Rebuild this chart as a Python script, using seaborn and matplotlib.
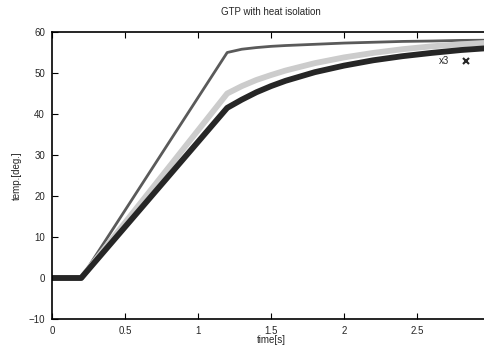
import matplotlib.pyplot as plt
import pandas as pd
import seaborn as sns
from matplotlib.lines import Line2D

# time axis [s] and read-off temperatures [deg.]
t = [0.0, 0.1, 0.2, 0.4, 0.6, 0.8, 1.0, 1.2, 1.3, 1.4, 1.5, 1.6, 1.8, 2.0, 2.2, 2.4, 2.6, 2.8, 3.0]
x1 = [0.0, 0.0, 0.0, 11.0, 22.0, 33.0, 44.0, 55.0, 55.8, 56.2, 56.5, 56.7, 57.0, 57.3, 57.5, 57.7, 57.8, 57.95, 58.0]
x2 = [0.0, 0.0, 0.0, 9.0, 18.0, 27.0, 36.0, 45.0, 46.8, 48.3, 49.5, 50.6, 52.4, 53.8, 54.9, 55.8, 56.5, 57.0, 57.4]
x3 = [0.0, 0.0, 0.0, 8.3, 16.6, 24.9, 33.2, 41.5, 43.5, 45.3, 46.8, 48.1, 50.2, 51.8, 53.1, 54.1, 54.9, 55.6, 56.1]
xticks = [0, 0.5, 1, 1.5, 2, 2.5]

df = pd.DataFrame({"t": t, "x1": x1, "x2": x2, "x3": x3})

sns.set_style("white")
plt.rcParams["font.family"] = ["Liberation Sans", "DejaVu Sans"]

fig = plt.figure(figsize=(4.84, 3.45), dpi=100)
ax = fig.add_axes([52 / 484, 26 / 345, 438 / 484, 287 / 345])

sns.lineplot(ax=ax, data=df, x="t", y="x1", color="#5a5a5a", linewidth=2.0)
sns.lineplot(ax=ax, data=df, x="t", y="x2", color="#cccccc", linewidth=4.2)
sns.lineplot(ax=ax, data=df, x="t", y="x3", color="#262626", linewidth=4.2)

ax.set_xlim(0, 3)
ax.set_ylim(-10, 60)
ax.set_xticks(xticks)
ax.set_xticklabels([f"{v:g}" for v in xticks])
ax.set_yticks(range(-10, 61, 10))
ax.tick_params(direction="in", length=4, width=0.8, labelsize=7, pad=5,
               top=True, right=True, bottom=True, left=True, color="black")
for s in ax.spines.values():
    s.set_color("black")
    s.set_linewidth(1.2)

ax.set_title("GTP with heat isolation", fontsize=7, pad=12)
ax.set_xlabel("time[s]", fontsize=7, labelpad=-1)
ax.set_ylabel("temp.[deg.]", fontsize=7, labelpad=5)

h = Line2D([], [], color="#262626", marker="x", linestyle="none", markersize=4, markeredgewidth=1.5)
ax.legend([h], ["x3"], loc="upper left", bbox_to_anchor=(0.875, 0.93), frameon=False,
          markerfirst=False, fontsize=7, handlelength=1.8, borderaxespad=0)

fig.savefig("out.png", dpi=100)
